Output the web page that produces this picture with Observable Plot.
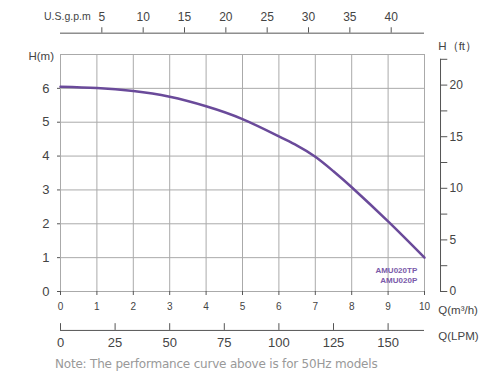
<!DOCTYPE html>
<html><head><meta charset="utf-8">
<script src="https://cdn.jsdelivr.net/npm/d3@7"></script>
<script src="https://cdn.jsdelivr.net/npm/@observablehq/plot@0.6"></script>
<style>
body{margin:0;background:#fff;font-family:"Liberation Sans",Arial,sans-serif;}
#note{margin:4px 0 0 55px;font-size:12px;line-height:16px;color:#999;font-family:"DejaVu Sans","Liberation Sans",sans-serif;letter-spacing:-0.2px;}
</style></head>
<body><div id="chart"></div><div id="note">Note: The performance curve above is for 50Hz models</div>
<script>
const flow = [0,1,2,3,4,5,6,6.5,7,7.5,8,9,10];
const head = [6.05,6.01,5.92,5.75,5.47,5.09,4.58,4.31,3.98,3.55,3.08,2.07,1.0];
const xTicks = [0,1,2,3,4,5,6,7,8,9,10];
const yTicks = [0,1,2,3,4,5,6];
const yGrid = [0,1,2,3,4,5,6,7];
const gpmTicks = [5,10,15,20,25,30,35,40];
const lpmTicks = [0,25,50,75,100,125,150];
const ftTicks = [0,2.5,5,7.5,10,12.5,15,17.5,20,22.5];
const ftLabels = [0,5,10,15,20];
const models = ["AMU020TP","AMU020P"];

const GPM = 4.4029, LPM = 1/0.06, FT = 0.3048;
const axisCol = "#555", gridCol = "#aaa", txt = "#444";
const topY = 7.63, botY = -1.15, rightX = 10.44;

const plot = Plot.plot({
  width: 500, height: 352,
  marginLeft: 60, marginRight: 76, marginTop: 54, marginBottom: 61,
  style: {fontFamily: "Liberation Sans, Arial, sans-serif", color: txt, overflow: "visible"},
  x: {domain: [0,10]},
  y: {domain: [0,7]},
  marks: [
    Plot.gridX(xTicks, {stroke: gridCol, strokeOpacity: 1}),
    Plot.gridY(yGrid, {stroke: gridCol, strokeOpacity: 1}),
    Plot.axisY(yTicks, {tickSize: 3, tickPadding: 8, fontSize: 13, label: null, stroke: axisCol}),
    Plot.axisX(xTicks, {tickSize: 4, tickPadding: 7, fontSize: 10, label: null, stroke: axisCol}),
    // curve
    Plot.line(flow.map((f,i)=>({f, h: head[i]})), {x: "f", y: "h", stroke: "#6a4a9a", strokeWidth: 2.5, curve: "natural"}),
    // model labels
    Plot.text(models, {x: 9.8, y: (d,i)=> [0.62,0.34][i], text: d=>d, textAnchor: "end", fontSize: 8, fontWeight: "bold", fill: "#7a5aaa"}),
    // top gpm axis
    Plot.ruleY([topY], {x1: 0, x2: 10, stroke: axisCol, clip: false}),
    Plot.ruleX(gpmTicks, {x: d=>d/GPM, y1: topY, y2: topY+0.16, stroke: axisCol, clip: false}),
    Plot.text(gpmTicks, {x: d=>d/GPM, y: topY+0.48, text: d=>String(d), fontSize: 12, fill: txt}),
    Plot.text(["U.S.g.p.m"], {x: 0.83, y: topY+0.5, textAnchor: "end", fontSize: 10.5, fill: txt}),
    // bottom LPM axis
    Plot.ruleY([botY], {x1: 0, x2: 10, stroke: axisCol}),
    Plot.ruleX(lpmTicks, {x: d=>d/LPM, y1: botY, y2: botY+0.2, stroke: axisCol}),
    Plot.text(lpmTicks, {x: d=>d/LPM, y: botY-0.36, text: d=>String(d), fontSize: 13, fill: txt}),
    Plot.text(["Q(LPM)"], {x: 10.38, y: -1.33, textAnchor: "start", fontSize: 11.5, fill: txt}),
    Plot.text(["Q(m³/h)"], {x: 10.38, y: -0.55, textAnchor: "start", fontSize: 11.5, fill: txt}),
    // right ft axis
    Plot.ruleX([rightX], {y1: 0, y2: 22.5*FT, stroke: axisCol}),
    Plot.ruleY(ftTicks, {y: d=>d*FT, x1: rightX, x2: rightX+0.2, stroke: axisCol}),
    Plot.text(ftLabels, {y: d=>d*FT, x: rightX+0.25, text: d=>String(d), textAnchor: "start", fontSize: 12, fill: txt}),
    Plot.text(["H（ft）"], {x: 10.38, y: 7.25, textAnchor: "start", fontSize: 11.5, fill: txt}),
    Plot.text(["H(m)"], {x: -0.53, y: 6.95, fontSize: 11.5, fill: txt})
  ]
});
document.getElementById("chart").appendChild(plot);
</script></body></html>
